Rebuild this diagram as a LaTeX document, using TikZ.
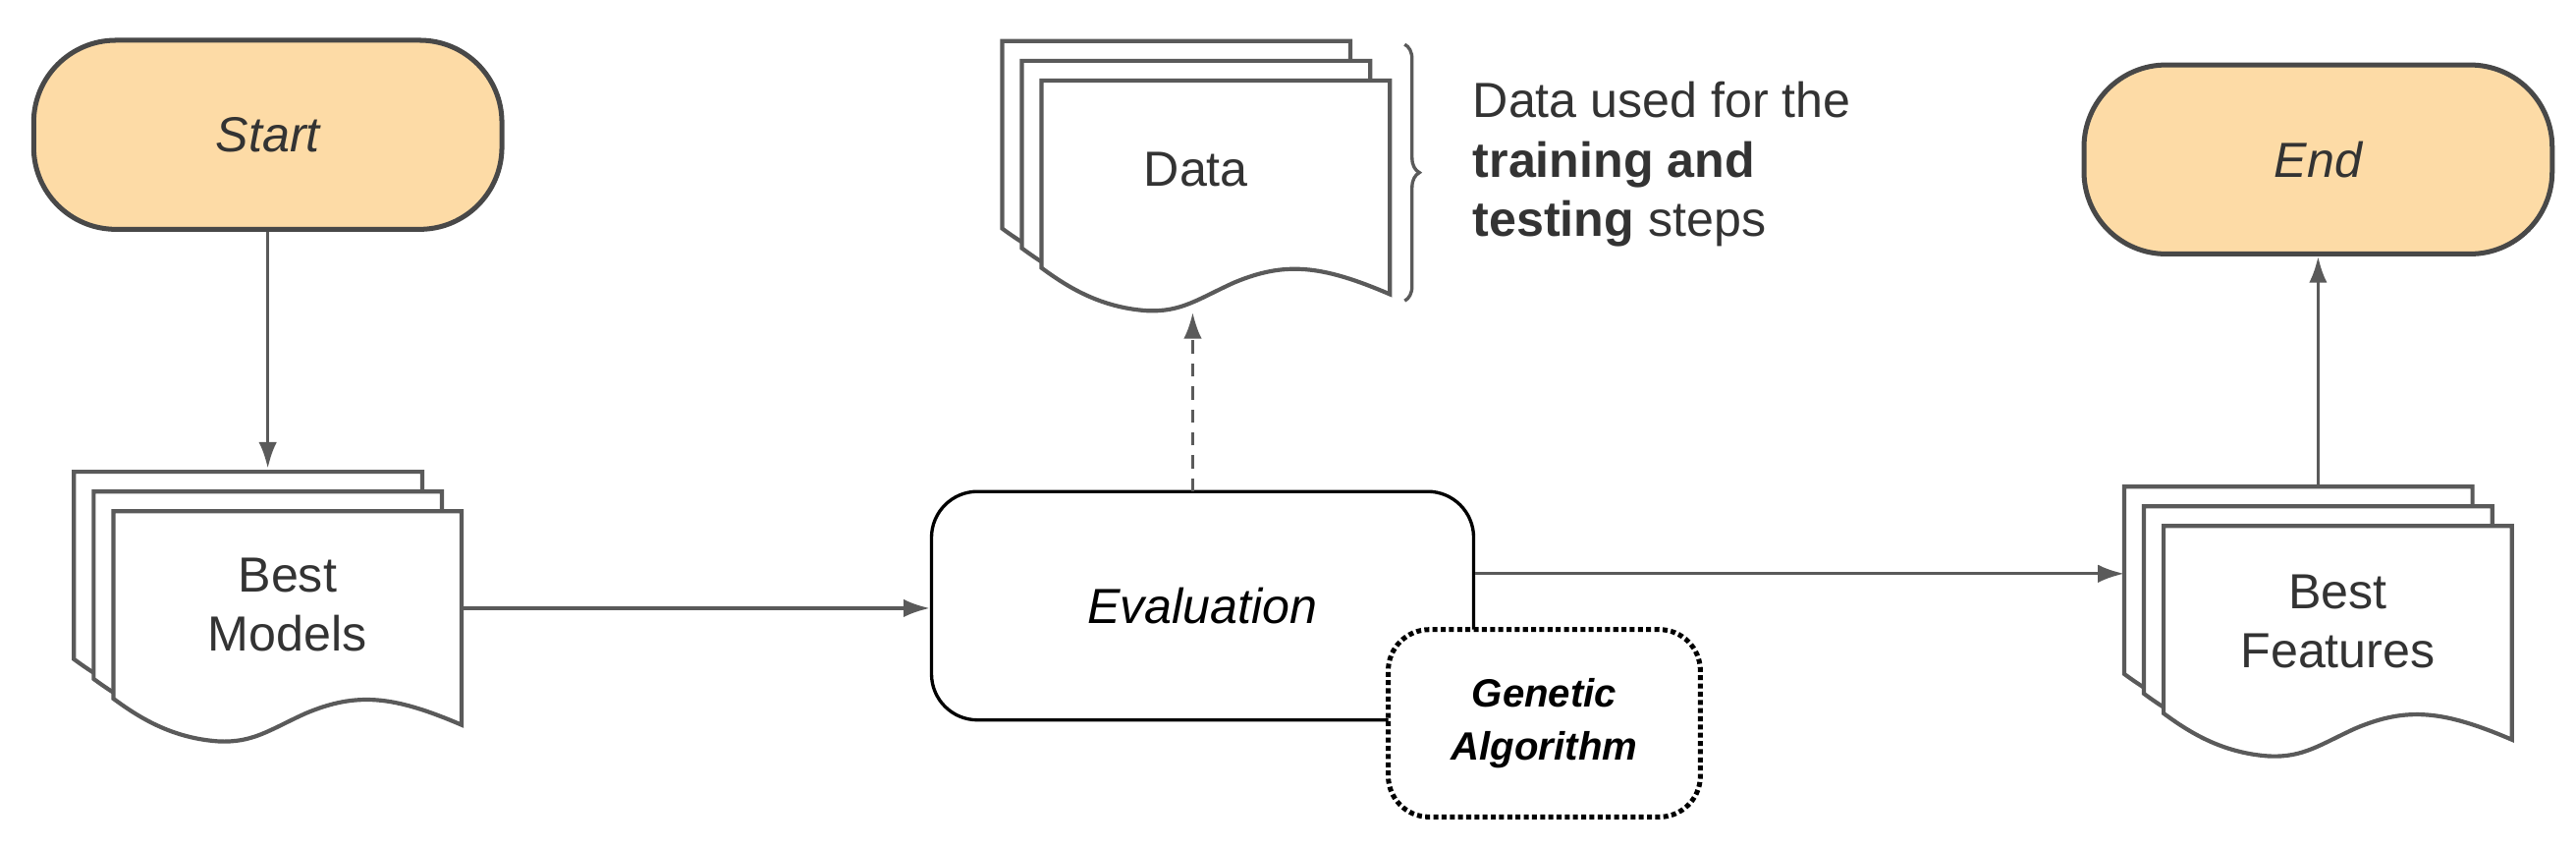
\documentclass[tikz,border=0pt]{standalone}
\usepackage{fontspec}
\setmainfont{Liberation Sans}
\usetikzlibrary{decorations.pathreplacing,arrows.meta}
\definecolor{ln}{HTML}{5A5A5A}
\definecolor{tx}{HTML}{333333}
\definecolor{term}{HTML}{FDDBA6}
\tikzset{x=1pt,y=-1pt,
 pics/doc/.style={code={
  \draw[ln,line width=2.5pt,fill=white] (0,0)--(212,0)--(212,130)
   .. controls (170,112) and (148,110) .. (117,123)
   .. controls (95,133) and (85,141) .. (64,140)
   .. controls (35,138) and (15,125) .. (0,114) -- cycle;}},
 stack/.style={},
 term/.style={draw=ln!80!black,line width=3pt,fill=term,rounded corners=50pt,minimum width=285pt,minimum height=115pt,font=\fontsize{30}{30}\selectfont\itshape,text=tx},
 lbl/.style={font=\fontsize{30}{36}\selectfont,text=tx,align=center},
 arr/.style={ln,line width=2pt,-{Latex[length=16pt,width=11pt]}}}
\begin{document}
\begin{tikzpicture}
\useasboundingbox (0,0) rectangle (1568,516);
% terminals
\node[term] (start) at (163,82) {Start};
\node[term] (end) at (1411,97) {End};
% Best Models stack
\pic at (45,287) {doc}; \pic at (57,299) {doc}; \pic at (69,311) {doc};
\node[lbl,minimum width=212pt,minimum height=120pt] (bm) at (175,368) {Best\\Models};
% Data stack
\pic at (610,25) {doc}; \pic at (622,37) {doc}; \pic at (634,49) {doc};
\node[lbl,minimum width=212pt,minimum height=140pt] (data) at (740,119) {};
\node[lbl] at (728,103) {Data};
% Best Features stack
\pic at (1293,296) {doc}; \pic at (1305,308) {doc}; \pic at (1317,320) {doc};
\node[lbl,minimum width=212pt,minimum height=120pt] (bf) at (1423,378) {Best\\Features};
% Evaluation
\node[draw=black,line width=2pt,rounded corners=28pt,fill=white,minimum width=330pt,minimum height=139pt,font=\fontsize{30}{30}\selectfont\itshape,text=black] (ev) at (732,368.5) {Evaluation};
\node[draw=black,line width=3pt,dotted,rounded corners=25pt,fill=white,minimum width=190pt,minimum height=114pt,font=\fontsize{24}{32}\selectfont\bfseries\itshape,align=center] (ga) at (940,440) {Genetic\\Algorithm};
% brace and note
\draw[ln,line width=2pt,decorate,decoration={brace,amplitude=9pt}] (855,27) -- (855,183);
\node[lbl,align=left,anchor=west] (note) at (893,100) {Data used for the\\\textbf{training and}\\\textbf{testing} steps};
% connectors
\draw[arr] (start.south) -- (start.south |- 0,285);
\draw[arr] (281,370) -- (ev.west |- 0,370);
\draw[arr,dashed,dash pattern=on 8pt off 6pt] (726,299) -- (726,190);
\draw[arr] (ev.east |- 0,349) -- (1293,349);
\draw[arr] (1411,296) -- (end.south);
\end{tikzpicture}
\end{document}
